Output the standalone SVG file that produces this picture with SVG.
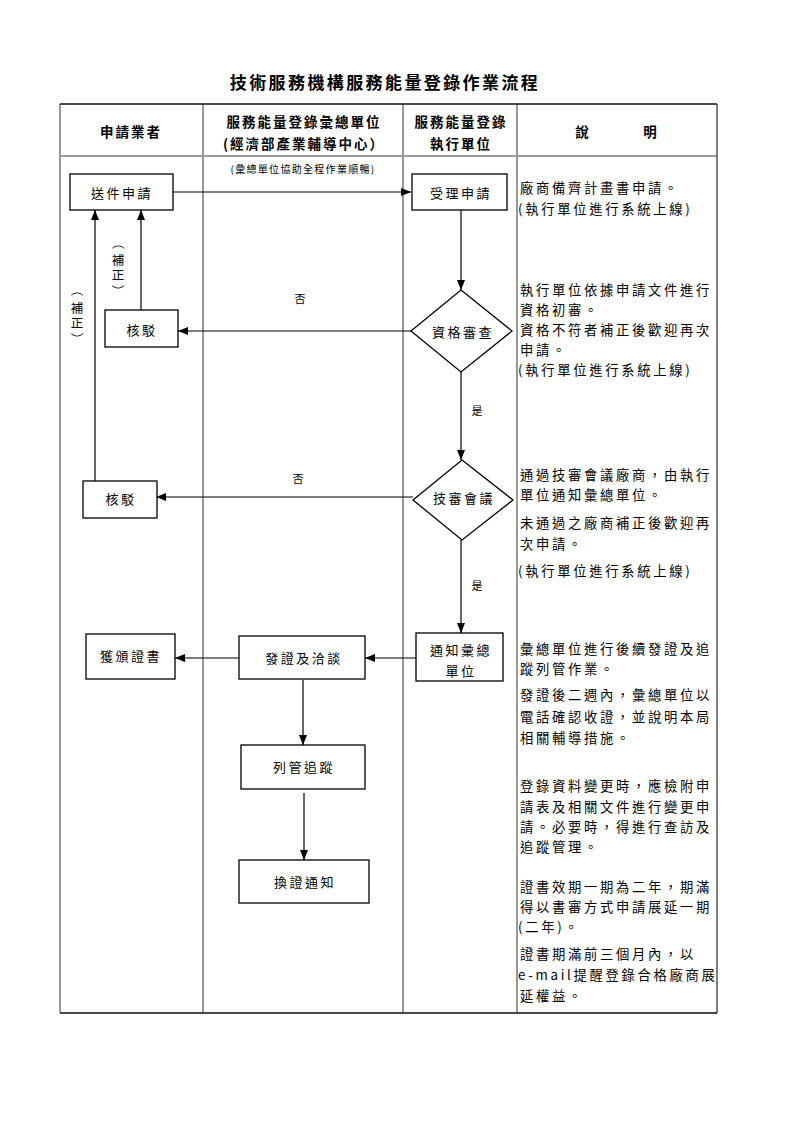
<svg xmlns="http://www.w3.org/2000/svg" width="800" height="1131" viewBox="0 0 800 1131">
<style>
text{font-family:"Noto Sans CJK TC","Noto Sans CJK SC",sans-serif;fill:#000}
.title{font-size:17px;font-weight:bold;letter-spacing:2.4px;text-anchor:middle}
.hd{font-size:13.5px;font-weight:bold;letter-spacing:2px;text-anchor:middle;dominant-baseline:central}
.nt{font-size:13px;letter-spacing:2.5px;text-anchor:middle;dominant-baseline:central}
.sm{font-size:10px;letter-spacing:1.3px;text-anchor:middle;dominant-baseline:central}
.lb{font-size:11px;text-anchor:middle;dominant-baseline:central}
.vt{font-size:12.5px;text-anchor:middle;dominant-baseline:central}
.ds{font-size:13.3px;letter-spacing:2.7px;dominant-baseline:central}
.box{fill:#fff;stroke:#000;stroke-width:1.3}
.grid{stroke:#999;stroke-width:2;fill:none}
.edge{stroke:#000;stroke-width:1.2;fill:none;marker-end:url(#ah)}
</style>
<defs>
<marker id="ah" markerUnits="userSpaceOnUse" markerWidth="10" markerHeight="8" refX="10" refY="4" orient="auto">
<path d="M0,0 L10,4 L0,8 z" fill="#000"/>
</marker>
</defs>
<rect width="800" height="1131" fill="#fff"/>
<text class="title" x="385" y="89">技術服務機構服務能量登錄作業流程</text>
<g id="table">
<path class="grid" d="M60,104 V1013 M203,104 V1013 M403,104 V1013 M517,104 V1013 M60,156 H717"/>
<path d="M717,104 V1013" stroke="#555" stroke-width="1.5"/>
<path d="M60,104 H717 M60,1013 H717" stroke="#111" stroke-width="1.6"/>
<text class="hd" x="131" y="131">申請業者</text>
<text class="hd" x="304" y="121">服務能量登錄彙總單位</text>
<text class="hd" x="304" y="143">(經濟部產業輔導中心）</text>
<text class="hd" x="461" y="121">服務能量登錄</text>
<text class="hd" x="461" y="143">執行單位</text>
<text class="hd" x="583" y="131">說</text>
<text class="hd" x="651" y="131">明</text>
</g>
<g id="connectors">
<path class="edge" d="M173,192 H411"/>
<path class="edge" d="M461,210 V290"/>
<path class="edge" d="M411,331 H178"/>
<path class="edge" d="M141,310 V210"/>
<path class="edge" d="M95,481 V210"/>
<path class="edge" d="M461,372 V460"/>
<path class="edge" d="M413,497 H156"/>
<path class="edge" d="M461,540 V633"/>
<path class="edge" d="M416,658 H365"/>
<path class="edge" d="M239,658 H175"/>
<path class="edge" d="M303,680 V745"/>
<path class="edge" d="M304,793 V860"/>
<text class="sm" x="303" y="168">(彙總單位協助全程作業順暢)</text>
<text class="lb" x="300" y="298">否</text>
<text class="lb" x="298" y="478">否</text>
<text class="lb" x="477" y="410">是</text>
<text class="lb" x="477" y="585">是</text>
<g id="label-fix1">
<text class="vt" x="118" y="243" transform="rotate(90 118 243)">（</text>
<text class="vt" x="118 118" y="259 274">補正</text>
<text class="vt" x="118" y="291" transform="rotate(90 118 291)">）</text>
</g>
<g id="label-fix2">
<text class="vt" x="77" y="290" transform="rotate(90 77 290)">（</text>
<text class="vt" x="77 77" y="307 322">補正</text>
<text class="vt" x="77" y="339" transform="rotate(90 77 339)">）</text>
</g>
</g>
<g id="n-submit"><rect class="box" x="70" y="174" width="103" height="36"/><text class="nt" x="122" y="192">送件申請</text></g>
<g id="n-accept"><rect class="box" x="412" y="174" width="95" height="36"/><text class="nt" x="461" y="192">受理申請</text></g>
<g id="n-qual"><path class="box" d="M461,290 L512,331 L461,372 L411,331 Z"/><text class="nt" x="463" y="331">資格審查</text></g>
<g id="n-reject1"><rect class="box" x="105" y="310" width="73" height="37"/><text class="nt" x="142" y="329">核駁</text></g>
<g id="n-tech"><path class="box" d="M462,460 L513,500 L462,540 L413,500 Z"/><text class="nt" x="464" y="497">技審會議</text></g>
<g id="n-reject2"><rect class="box" x="83" y="481" width="74" height="37"/><text class="nt" x="121" y="498">核駁</text></g>
<g id="n-notify"><rect class="box" x="416" y="633" width="87" height="48"/><text class="nt" x="461" y="649">通知彙總</text><text class="nt" x="461" y="670">單位</text></g>
<g id="n-issue"><rect class="box" x="239" y="636" width="126" height="43"/><text class="nt" x="304" y="657">發證及洽談</text></g>
<g id="n-cert"><rect class="box" x="86" y="634" width="89" height="45"/><text class="nt" x="131" y="655">獲頒證書</text></g>
<g id="n-track"><rect class="box" x="241" y="745" width="124" height="44"/><text class="nt" x="304" y="766">列管追蹤</text></g>
<g id="n-renew"><rect class="box" x="239" y="860" width="130" height="43"/><text class="nt" x="305" y="881">換證通知</text></g>
<g id="desc">
<text class="ds" x="520" y="187">廠商備齊計畫書申請。</text>
<text class="ds" x="518" y="208">(執行單位進行系統上線)</text>
<text class="ds" x="520" y="289">執行單位依據申請文件進行</text>
<text class="ds" x="520" y="309">資格初審。</text>
<text class="ds" x="520" y="329">資格不符者補正後歡迎再次</text>
<text class="ds" x="520" y="349">申請。</text>
<text class="ds" x="518" y="369">(執行單位進行系統上線)</text>
<text class="ds" x="520" y="474">通過技審會議廠商，由執行</text>
<text class="ds" x="520" y="494">單位通知彙總單位。</text>
<text class="ds" x="520" y="522">未通過之廠商補正後歡迎再</text>
<text class="ds" x="520" y="543">次申請。</text>
<text class="ds" x="518" y="570">(執行單位進行系統上線)</text>
<text class="ds" x="520" y="648">彙總單位進行後續發證及追</text>
<text class="ds" x="520" y="668">蹤列管作業。</text>
<text class="ds" x="520" y="694">發證後二週內，彙總單位以</text>
<text class="ds" x="520" y="716">電話確認收證，並說明本局</text>
<text class="ds" x="520" y="737">相關輔導措施。</text>
<text class="ds" x="520" y="785">登錄資料變更時，應檢附申</text>
<text class="ds" x="520" y="806">請表及相關文件進行變更申</text>
<text class="ds" x="520" y="826">請。必要時，得進行查訪及</text>
<text class="ds" x="520" y="846">追蹤管理。</text>
<text class="ds" x="520" y="886">證書效期一期為二年，期滿</text>
<text class="ds" x="520" y="906">得以書審方式申請展延一期</text>
<text class="ds" x="518" y="926">(二年)。</text>
<text class="ds" x="520" y="953">證書期滿前三個月內，以</text>
<text class="ds" x="518" y="974">e-mail提醒登錄合格廠商展</text>
<text class="ds" x="520" y="995">延權益。</text>
</g>
</svg>
